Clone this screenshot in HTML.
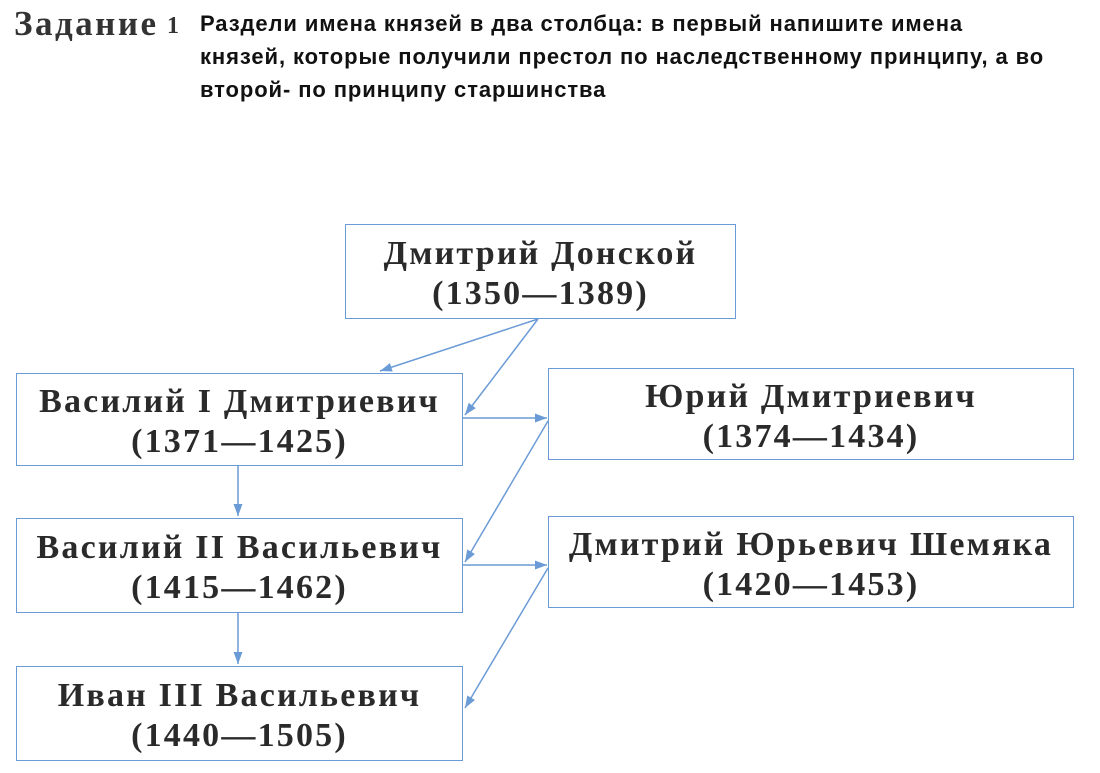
<!DOCTYPE html>
<html><head><meta charset="utf-8"><style>
body{margin:0;width:1100px;height:773px;background:#fff;position:relative;overflow:hidden}
.h{position:absolute;font-family:"Liberation Serif",serif;font-weight:bold;color:#333}
.t{position:absolute;left:200px;top:7px;font-family:"Liberation Sans",sans-serif;font-weight:bold;font-size:22px;letter-spacing:0.9px;line-height:33px;color:#111}
.b{position:absolute;border:1.5px solid #6b9bd6;box-sizing:border-box;padding-top:5px;font-family:"Liberation Serif",serif;font-weight:bold;font-size:34px;line-height:40px;color:#2a2a2a;text-align:center;display:flex;flex-direction:column;justify-content:center;letter-spacing:2.2px}
</style></head><body>
<div class="h" style="left:14px;top:4px;font-size:35px;letter-spacing:2.5px">Задание</div>
<div class="h" style="left:167px;top:13px;font-size:24px">1</div>
<div class="t">Раздели имена князей в два столбца: в первый напишите имена<br>князей, которые получили престол по наследственному принципу, а во<br>второй- по принципу старшинства</div>
<div class="b" style="left:345px;top:224px;width:391px;height:95px">Дмитрий Донской<br>(1350—1389)</div>
<div class="b" style="left:16px;top:373px;width:447px;height:93px">Василий I Дмитриевич<br>(1371—1425)</div>
<div class="b" style="left:548px;top:368px;width:526px;height:92px">Юрий Дмитриевич<br>(1374—1434)</div>
<div class="b" style="left:16px;top:518px;width:447px;height:95px">Василий II Васильевич<br>(1415—1462)</div>
<div class="b" style="left:548px;top:516px;width:526px;height:92px">Дмитрий Юрьевич Шемяка<br>(1420—1453)</div>
<div class="b" style="left:16px;top:666px;width:447px;height:95px">Иван III Васильевич<br>(1440—1505)</div>
<svg width="1100" height="773" style="position:absolute;left:0;top:0">
<defs><marker id="a" markerWidth="12" markerHeight="9" refX="12" refY="4.5" orient="auto" markerUnits="userSpaceOnUse"><path d="M0,0L12,4.5L0,9z" fill="#6b9bd6"/></marker></defs>
<g stroke="#6b9bd6" stroke-width="1.5" fill="none" marker-end="url(#a)">
<line x1="538" y1="319" x2="380" y2="371"/>
<line x1="538" y1="319" x2="465" y2="415"/>
<line x1="463" y1="418" x2="547" y2="418"/>
<line x1="548" y1="421" x2="465" y2="562"/>
<line x1="463" y1="565" x2="547" y2="565"/>
<line x1="548" y1="568" x2="465" y2="708"/>
<line x1="238" y1="466" x2="238" y2="516"/>
<line x1="238" y1="613" x2="238" y2="664"/>
</g></svg>
</body></html>
